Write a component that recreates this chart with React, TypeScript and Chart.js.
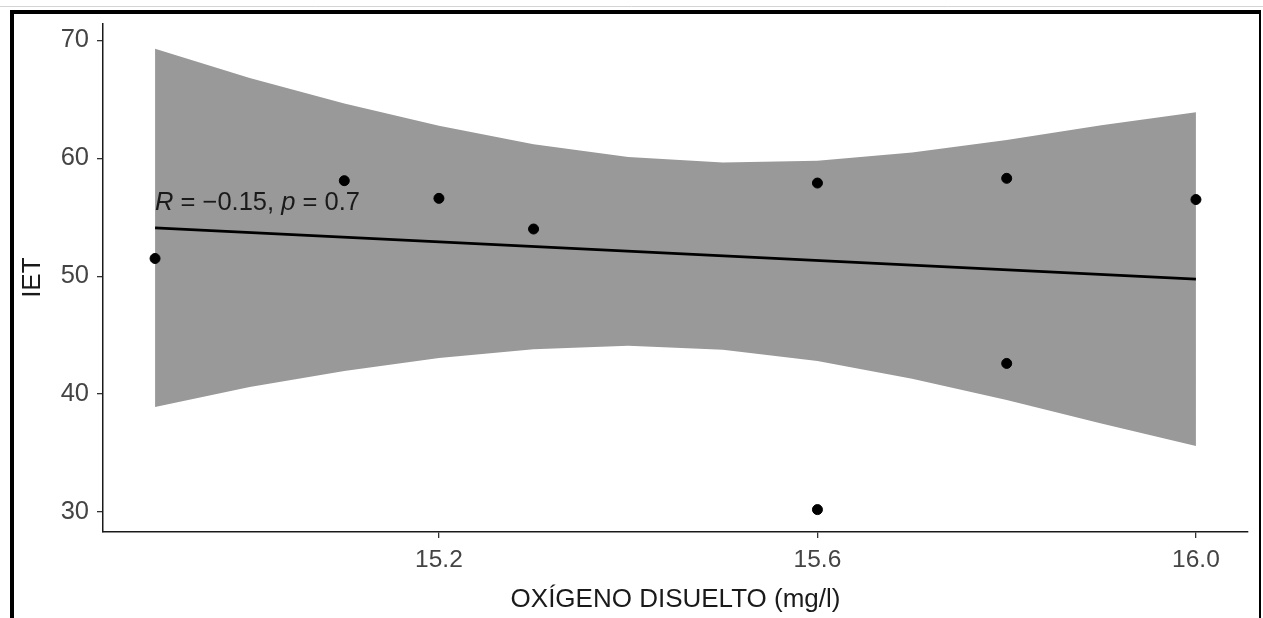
import React, { useEffect, useRef } from "react";
import { Chart, registerables } from "chart.js";

Chart.register(...registerables);

// Observations: dissolved oxygen (mg/l) vs IET
const oxygen = [14.9, 15.1, 15.2, 15.3, 15.6, 15.6, 15.8, 15.8, 16.0];
const iet = [51.5, 58.1, 56.6, 54.0, 57.9, 30.2, 58.3, 42.6, 56.5];

// Fitted regression line
const fitX = [14.9, 16.0];
const fitY = [54.1, 49.75];

// Confidence band
const bandX = [14.9, 15.0, 15.1, 15.2, 15.3, 15.4, 15.5, 15.6, 15.7, 15.8, 15.9, 16.0];
const bandUpper = [69.3, 66.8, 64.65, 62.75, 61.2, 60.1, 59.65, 59.8, 60.5, 61.55, 62.8, 63.9];
const bandLower = [38.9, 40.6, 41.95, 43.05, 43.8, 44.1, 43.75, 42.8, 41.3, 39.5, 37.5, 35.6];

// Axes
const xTicks = [15.2, 15.6, 16.0];
const yTicks = [30, 40, 50, 60, 70];
const xRange = [14.845, 16.055];
const yRange = [28.3, 71.45];
const xTitle = "OXÍGENO DISUELTO (mg/l)";
const yTitle = "IET";

// Correlation label
const corPos = [14.9, 55.6];
const corParts = [
  { text: "R", italic: true },
  { text: " = \u22120.15, ", italic: false },
  { text: "p", italic: true },
  { text: " = 0.7", italic: false },
];

const FONT = "'Liberation Sans', Arial, sans-serif";

const corLabelPlugin = {
  id: "corLabel",
  afterDatasetsDraw(chart: any) {
    const { ctx, scales } = chart;
    let x = scales.x.getPixelForValue(corPos[0]);
    const y = scales.y.getPixelForValue(corPos[1]);
    ctx.save();
    ctx.fillStyle = "#1a1a1a";
    ctx.textBaseline = "alphabetic";
    ctx.textAlign = "left";
    for (const p of corParts) {
      ctx.font = `${p.italic ? "italic " : ""}25.5px ${FONT}`;
      ctx.fillText(p.text, x, y);
      x += ctx.measureText(p.text).width;
    }
    ctx.restore();
  },
};

const framePlugin = {
  id: "frame",
  afterDraw(chart: any) {
    const { ctx, width, height } = chart;
    ctx.save();
    ctx.strokeStyle = "#d4d4d4";
    ctx.lineWidth = 1;
    ctx.beginPath();
    ctx.moveTo(0, 6.5);
    ctx.lineTo(width, 6.5);
    ctx.stroke();
    ctx.fillStyle = "#000";
    ctx.fillRect(10, 10, width - 12, 4);
    ctx.fillRect(10, 10, 4, height - 10);
    ctx.fillRect(width - 4, 10, 2, height - 10);
    ctx.restore();
  },
};

export default function App() {
  const ref = useRef<HTMLCanvasElement | null>(null);

  useEffect(() => {
    const canvas = ref.current;
    if (!canvas) return;
    const chart = new Chart(canvas, {
      type: "scatter",
      data: {
        datasets: [
          {
            type: "scatter",
            label: "points",
            data: oxygen.map((x, i) => ({ x, y: iet[i] })),
            backgroundColor: "#000",
            borderColor: "#000",
            pointRadius: 5,
            pointHoverRadius: 5,
            order: 0,
          },
          {
            type: "line",
            label: "fit",
            data: fitX.map((x, i) => ({ x, y: fitY[i] })),
            borderColor: "#000",
            borderWidth: 2.7,
            pointRadius: 0,
            fill: false,
            order: 1,
          },
          {
            type: "line",
            label: "upper",
            data: bandX.map((x, i) => ({ x, y: bandUpper[i] })),
            borderWidth: 0,
            borderColor: "rgba(0,0,0,0)",
            backgroundColor: "#999999",
            pointRadius: 0,
            fill: "+1",
            order: 2,
          },
          {
            type: "line",
            label: "lower",
            data: bandX.map((x, i) => ({ x, y: bandLower[i] })),
            borderWidth: 0,
            borderColor: "rgba(0,0,0,0)",
            pointRadius: 0,
            fill: false,
            order: 3,
          },
        ],
      },
      options: {
        animation: false,
        responsive: false,
        devicePixelRatio: 1,
        layout: { padding: { left: 0, top: 23, right: 15, bottom: 0 } },
        plugins: {
          legend: { display: false },
          tooltip: { enabled: false },
        },
        scales: {
          x: {
            type: "linear",
            min: xRange[0],
            max: xRange[1],
            afterBuildTicks: (s: any) => {
              s.ticks = xTicks.map((v) => ({ value: v }));
            },
            afterFit: (s: any) => {
              s.height = 86;
            },
            ticks: {
              callback: (v: any) => Number(v).toFixed(1),
              color: "#444444",
              font: { family: FONT, size: 24.5 },
              padding: 8,
              maxRotation: 0,
            },
            grid: {
              drawOnChartArea: false,
              drawTicks: true,
              tickLength: 6,
              color: "#333",
              lineWidth: 1.3,
            },
            border: { display: true, color: "#1a1a1a", width: 1.5 },
            title: {
              display: true,
              text: xTitle,
              color: "#1a1a1a",
              font: { family: FONT, size: 26, lineHeight: 1.2 },
              padding: { top: 0, bottom: 3 },
            },
          },
          y: {
            type: "linear",
            min: yRange[0],
            max: yRange[1],
            afterBuildTicks: (s: any) => {
              s.ticks = yTicks.map((v) => ({ value: v }));
            },
            afterFit: (s: any) => {
              s.width = 103;
            },
            ticks: {
              color: "#444444",
              font: { family: FONT, size: 25.5 },
              padding: 8,
            },
            grid: {
              drawOnChartArea: false,
              drawTicks: true,
              tickLength: 6,
              color: "#333",
              lineWidth: 1.3,
            },
            border: { display: true, color: "#1a1a1a", width: 1.5 },
            title: {
              display: true,
              text: yTitle,
              color: "#1a1a1a",
              font: { family: FONT, size: 26, lineHeight: 1.2 },
              padding: { top: 17, bottom: 0 },
            },
          },
        },
      },
      plugins: [corLabelPlugin, framePlugin],
    });
    return () => chart.destroy();
  }, []);

  return (
    <div style={{ position: "fixed", left: 0, top: 0, width: 1263, height: 618, background: "#fff" }}>
      <canvas ref={ref} width={1263} height={618} style={{ width: 1263, height: 618, display: "block" }} />
    </div>
  );
}
